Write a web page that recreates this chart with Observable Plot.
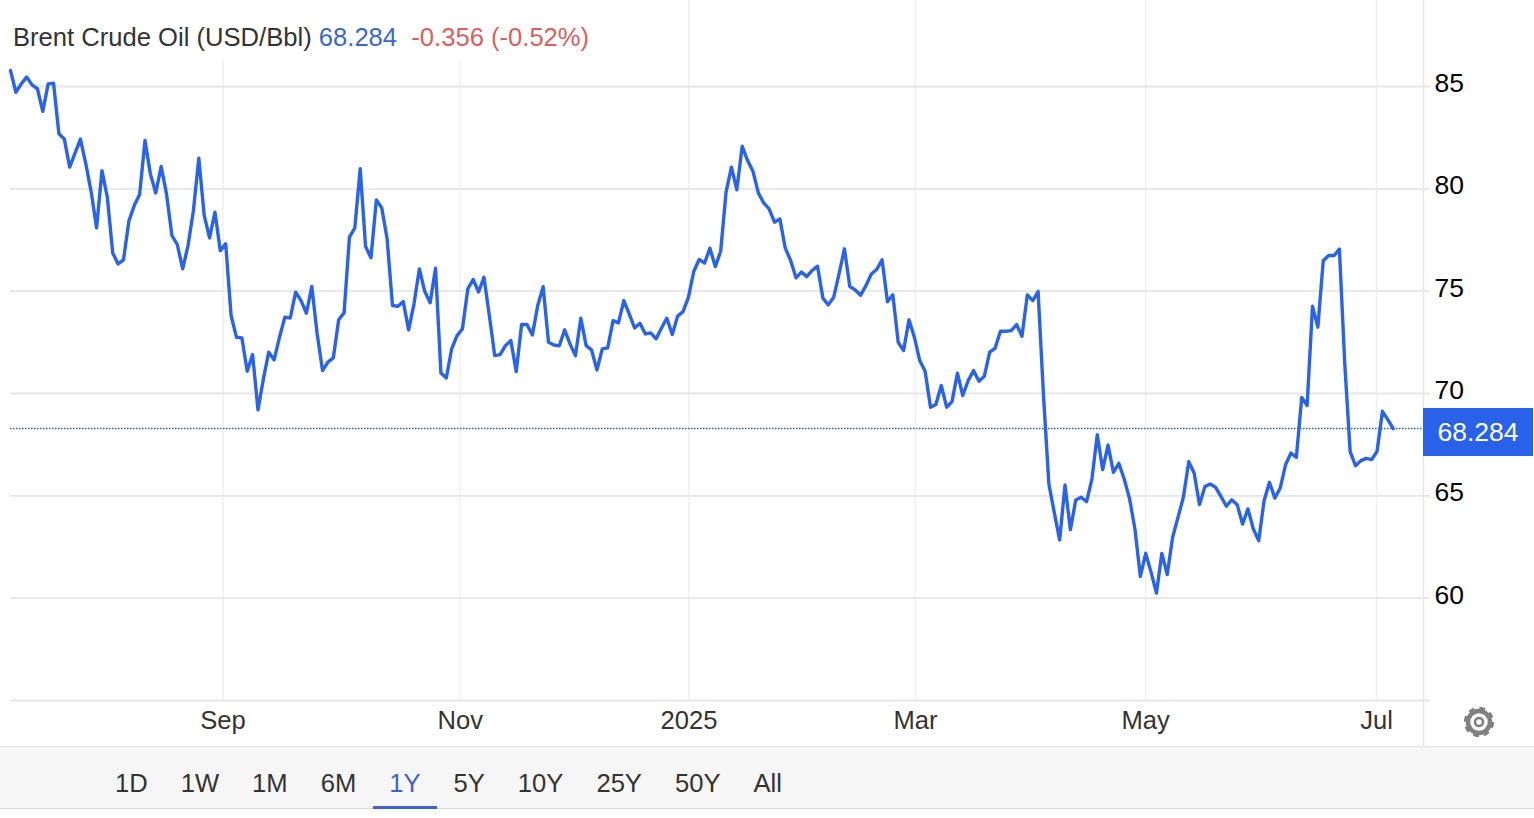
<!DOCTYPE html>
<html><head><meta charset="utf-8">
<script src="https://cdn.jsdelivr.net/npm/d3@7"></script>
<script src="https://cdn.jsdelivr.net/npm/@observablehq/plot@0.6"></script>
<style>
html,body{margin:0;padding:0;background:#fff;overflow:hidden;font-family:"Liberation Sans",Arial,sans-serif}
#wrap{position:relative;width:1534px;height:818px;overflow:hidden}
#wrap svg.plot{position:absolute;left:0;top:0;display:block}
#title{position:absolute;left:13px;top:0;height:60px;padding-right:12px;background:#fff;font-size:25.6px;line-height:75px;white-space:pre;color:#333}
#title .v{color:#3c67c6}#title .c{color:#d65f5f}
#badge{position:absolute;left:1423px;width:110px;height:48px;line-height:48px;background:#2962e8;color:#fff;font-size:26.5px;text-align:center}
#gear{position:absolute;left:1463px;top:706px}
#bar{position:absolute;left:0;top:746px;width:1534px;height:63px;background:#f6f6f6;border-top:1px solid #e0e0e0;border-bottom:1px solid #d8d8d8;box-sizing:content-box;display:flex;padding-left:98.5px;box-sizing:border-box}
#bar span{padding:0 16.5px;font-size:25.6px;line-height:72px;color:#333;height:60px;box-sizing:border-box}
#bar span.on{color:#3f62c4;height:62px;border-bottom:3px solid #3f62c4}
</style></head><body>
<div id="wrap"></div>
<script>
const title = "Brent Crude Oil (USD/Bbl)";
const priceChange = "-0.356";
const percentChange = "(-0.52%)";
const lastPrice = 68.284;
const priceTicks = [60, 65, 70, 75, 80, 85];
const gridTicks = [55, 60, 65, 70, 75, 80, 85];
const monthLabels = ["Sep", "Nov", "2025", "Mar", "May", "Jul"];
const monthSessions = [39.5, 83.6, 126.1, 168.2, 211, 253.9];
const ranges = ["1D", "1W", "1M", "6M", "1Y", "5Y", "10Y", "25Y", "50Y", "All"];
const activeRange = "1Y";
const prices = [
85.78,84.72,85.13,85.46,85.08,84.89,83.78,85.13,85.16,82.69,82.44,81.06,81.74,82.43,81.22,79.84,78.09,80.89,79.59,76.87,
76.33,76.53,78.42,79.18,79.72,82.36,80.73,79.80,81.09,79.75,77.72,77.28,76.09,77.23,78.94,81.50,78.70,77.60,78.86,76.98,
77.31,73.81,72.75,72.72,71.09,71.90,69.20,70.71,72.02,71.64,72.75,73.73,73.69,74.95,74.54,73.92,75.23,72.91,71.12,71.53,
71.74,73.60,73.94,77.64,78.09,80.98,77.18,76.63,79.46,79.07,77.56,74.30,74.26,74.49,73.11,74.38,76.09,74.98,74.43,76.12,
71.00,70.76,72.18,72.83,73.16,75.11,75.57,74.96,75.68,73.81,71.85,71.90,72.34,72.59,71.07,73.37,73.37,72.86,74.30,75.22,
72.50,72.37,72.33,73.11,72.42,71.85,73.68,72.34,72.13,71.15,72.18,72.23,73.56,73.45,74.54,73.89,73.20,73.43,72.91,72.96,
72.67,73.20,73.68,72.88,73.78,74.00,74.70,75.96,76.55,76.37,77.10,76.20,76.95,79.84,81.06,79.95,82.08,81.38,80.86,79.80,
79.31,79.02,78.37,78.53,77.11,76.50,75.65,75.93,75.71,76.01,76.22,74.66,74.33,74.70,75.84,77.07,75.23,75.06,74.80,75.27,
75.84,76.06,76.53,74.48,74.82,72.50,72.10,73.60,72.75,71.61,71.09,69.33,69.46,70.39,69.33,69.60,70.99,69.90,70.63,71.12,
70.60,70.84,72.02,72.21,73.04,73.04,73.07,73.37,72.80,74.82,74.54,74.98,69.90,65.58,64.19,62.84,65.53,63.35,64.80,64.93,
64.71,65.82,67.99,66.28,67.48,66.15,66.59,65.82,64.85,63.38,61.07,62.19,61.26,60.25,62.19,61.15,62.97,63.95,64.93,66.67,
66.12,64.57,65.45,65.58,65.41,64.96,64.49,64.81,64.57,63.62,64.36,63.38,62.81,64.76,65.66,64.89,65.38,66.52,67.09,66.88,
69.81,69.41,74.26,73.24,76.49,76.74,76.74,77.06,71.44,67.16,66.47,66.72,66.83,66.77,67.17,69.13,68.72,68.284];

const chart = Plot.plot({
  width: 1534, height: 746,
  marginLeft: 10, marginRight: 111, marginTop: 0, marginBottom: 0,
  style: {fontFamily: '"Liberation Sans", Arial, sans-serif', background: "transparent"},
  x: {domain: [0, prices.length - 1], range: [10, 1392.7]},
  y: {domain: [55, 85], range: [700, 86]},
  marks: [
    Plot.ruleX(monthSessions, {y1: 55, y2: 90, stroke: "#f1f1f3", strokeWidth: 1.5}),
    Plot.ruleY(gridTicks, {stroke: "#e6e6e6", strokeWidth: 1.8, insetRight: -7}),
    Plot.frame({anchor: "right", stroke: "#e6e6e6", strokeWidth: 1.5}),
    Plot.ruleY([lastPrice], {stroke: "#2f5fb8", strokeWidth: 1.5, strokeDasharray: "1.5,1.5"}),
    Plot.line(prices, {x: (d, i) => i, y: d => d, stroke: "#2b63e6", strokeWidth: 3.4, strokeLinejoin: "round", strokeLinecap: "round"}),
    Plot.axisY({anchor: "right", ticks: priceTicks, tickSize: 0, tickPadding: 11, fontSize: 26.5, color: "#000", dy: -3, label: null, tickFormat: d => String(d), fill: "#000"}),
    Plot.axisX({anchor: "bottom", ticks: monthSessions, tickSize: 0, tickPadding: 0, fontSize: 25.6, fill: "#333", dy: -36, label: null, tickFormat: d => monthLabels[monthSessions.indexOf(d)]})
  ]
});
const wrap = document.getElementById("wrap");
wrap.appendChild(chart);
chart.classList.add("plot");

const t = document.createElement("div"); t.id = "title";
t.innerHTML = `${title} <span class="v">${lastPrice}</span>  <span class="c">${priceChange} ${percentChange}</span>`;
wrap.appendChild(t);

const b = document.createElement("div"); b.id = "badge"; b.textContent = lastPrice;
b.style.top = (chart.scale("y").apply(lastPrice) - 20.5) + "px";
wrap.appendChild(b);

const g = document.createElementNS("http://www.w3.org/2000/svg", "svg");
g.id = "gear"; g.setAttribute("width", 32); g.setAttribute("height", 32); g.setAttribute("viewBox", "0 0 32 32");
g.innerHTML = `<circle cx="16" cy="16" r="11" fill="none" stroke="#808080" stroke-width="4.5"/><circle cx="16" cy="16" r="13.5" fill="none" stroke="#808080" stroke-width="3.4" stroke-dasharray="5.6 5.0"/><circle cx="16" cy="16" r="4" fill="none" stroke="#808080" stroke-width="2.6"/>`;
wrap.appendChild(g);

const bar = document.createElement("div"); bar.id = "bar";
ranges.forEach(r => { const s = document.createElement("span"); s.textContent = r; if (r === activeRange) s.className = "on"; bar.appendChild(s); });
wrap.appendChild(bar);
</script>
</body></html>
